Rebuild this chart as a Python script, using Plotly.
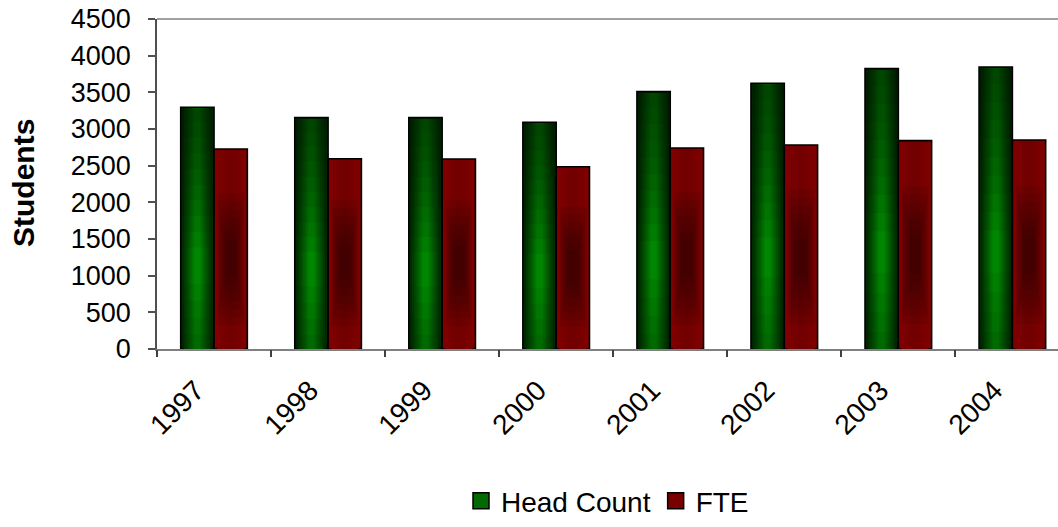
import plotly.graph_objects as go

years = ["1997", "1998", "1999", "2000", "2001", "2002", "2003", "2004"]
head_count = [3296, 3155, 3155, 3091, 3509, 3623, 3823, 3845]
fte = [2727, 2595, 2591, 2486, 2741, 2782, 2841, 2850]
series_names = ["Head Count", "FTE"]

FONT = "Liberation Sans, Arial, sans-serif"
x_idx = list(range(len(years)))
BW = 0.292  # bar width in category units
INSET = 0.013

# plot area in window pixels
PL, PR, PT, PB = 157, 1058, 19, 349
W, H = 1058, 527


def lerp(c1, c2, t):
    return "#%02x%02x%02x" % tuple(int(round(a + (b - a) * t)) for a, b in zip(c1, c2))


fig = go.Figure()


def add_bar(y, base, width, offset, color, name, line=None):
    fig.add_trace(go.Bar(
        x=x_idx, y=y, base=base, width=width, offset=offset,
        legendgroup=name, showlegend=False, hoverinfo="skip",
        marker=dict(color=color, line=line or dict(width=0)),
    ))


specs = [
    (series_names[0], head_count, -BW, (0x00, 0x2c, 0x00), (0x00, 0x86, 0x00), "#016b01"),
    (series_names[1], fte, 0.0, (0x80, 0x00, 0x00), (0x72, 0x00, 0x00), "#7a0000"),
]
N = 8
for name, vals, off, edge, center, legc in specs:
    add_bar(vals, 0, BW, off, lerp(edge, center, 0), name,
            line=dict(color="black", width=1.6))
    inner_w = BW - 2 * INSET
    top = [v - 18 for v in vals]
    for k in range(1, N):
        t = k / (N - 1)
        wk = inner_w * (1 - 0.9 * k / N)
        add_bar(top, 0, wk, off + (BW - wk) / 2, lerp(edge, center, t), name)
    if name == series_names[0]:
        for i in range(9):
            f = 0.42 + 0.065 * i
            add_bar([tv - v * f for v, tv in zip(vals, top)], [v * f for v in vals],
                    inner_w, off + INSET, "rgba(0,22,0,0.085)", name)
        for i in range(4):
            g = 0.06 + 0.07 * i
            add_bar([v * g for v in vals], 0, inner_w, off + INSET, "rgba(0,22,0,0.07)", name)
    else:
        for i in range(7):
            a = 0.12 + 0.04 * i
            b = 0.78 - 0.04 * i
            wk = inner_w * (0.9 - 0.09 * i)
            add_bar([v * (b - a) for v in vals], [v * a for v in vals],
                    wk, off + (BW - wk) / 2, "rgba(25,0,0,0.09)", name)
    fig.add_trace(go.Scatter(
        x=[None], y=[None], mode="markers", name=name, legendgroup=name,
        marker=dict(symbol="square", size=18, color=legc, line=dict(color="black", width=1.5)),
        showlegend=True, hoverinfo="skip",
    ))

ph = PB - PT
pw = PR - PL

fig.update_layout(
    width=W, height=H,
    margin=dict(l=PL, r=W - PR, t=PT, b=H - PB, autoexpand=False),
    paper_bgcolor="white", plot_bgcolor="white",
    barmode="overlay",
    font=dict(family=FONT, color="black", size=27),
    showlegend=True,
    legend=dict(orientation="h", x=0.5, xanchor="center", y=-(H - 1 - PB) / ph, yanchor="bottom",
                font=dict(size=28, family=FONT), traceorder="normal",
                itemwidth=30, bgcolor="rgba(0,0,0,0)", itemsizing="trace"),
    xaxis=dict(
        range=[-0.5, 7.40], tickmode="array", tickvals=x_idx, ticktext=years,
        tickangle=-45, ticks="", ticklabelstandoff=12, ticklabelshift=-18,
        showline=True, linecolor="#808080", linewidth=1.5,
        showgrid=False, zeroline=False, automargin=False, ticklabeloverflow="allow",
        tickfont=dict(size=28, family=FONT),
    ),
    xaxis2=dict(overlaying="x", range=[-0.5, 7.40], tickmode="array",
                tickvals=[i - 0.5 for i in x_idx], ticktext=["" for _ in x_idx],
                ticks="outside", ticklen=7, tickcolor="#404040", tickwidth=1.5, side="bottom",
                showgrid=False, zeroline=False, showline=False, automargin=False),
    yaxis=dict(
        range=[0, 4500], dtick=500, tick0=0, ticks="outside", ticklen=7,
        tickcolor="#505050", tickwidth=1.5, showline=True, linecolor="#505050", linewidth=1.5,
        showgrid=False, zeroline=False, automargin=False, ticklabelstandoff=12,
        ticklabeloverflow="allow",
        tickfont=dict(size=27, family=FONT),
    ),
)
fig.add_trace(go.Scatter(x=[-0.5], y=[0], mode="markers", marker=dict(opacity=0),
                         showlegend=False, hoverinfo="skip", xaxis="x2"))
fig.add_annotation(text="<b>Students</b>", xref="paper", yref="paper",
                   x=(23 - PL) / pw, y=(PB - 183) / ph, xanchor="center", yanchor="middle",
                   textangle=-90, showarrow=False, font=dict(size=30, family=FONT))
fig.add_shape(type="line", xref="paper", yref="paper", x0=0, x1=1, y0=1, y1=1,
              line=dict(color="#808080", width=1.5))

fig.write_html("out.html", config={"displayModeBar": False},
               post_script="document.body.style.margin='0';document.body.style.overflow='hidden';")
